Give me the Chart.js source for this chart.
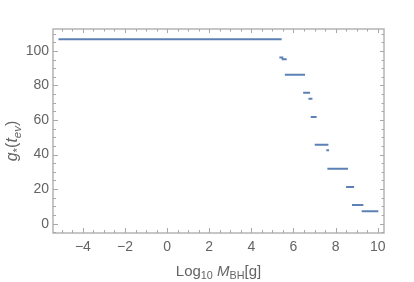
<!DOCTYPE html>
<html>
<head>
<meta charset="utf-8">
<script src="https://cdn.jsdelivr.net/npm/chart.js@4.4.0/dist/chart.umd.min.js"></script>
<style>
  html, body { margin: 0; padding: 0; background: #fff; }
  #wrap { width: 414px; height: 282px; position: relative; }
</style>
</head>
<body>
<div id="wrap"><canvas id="c" width="414" height="282"></canvas></div>
<script>
// ---- data ----
const segStart = [-5.16, 5.33, 5.44, 5.59, 6.46, 6.71, 6.82, 7.01, 7.56, 7.61, 8.50, 8.78, 9.24];
const segEnd   = [ 5.44, 5.52, 5.68, 6.55, 6.79, 6.90, 7.10, 7.66, 7.69, 8.59, 8.88, 9.32, 10.03];
const gStar    = [106.75, 96.25, 95.25, 86.25, 75.75, 72.25, 61.75, 45.75, 42.5, 31.75, 21.25, 10.75, 7.25];
const xTicks = [-4, -2, 0, 2, 4, 6, 8, 10];
const yTicks = [0, 20, 40, 60, 80, 100];
const xRange = [-5.42, 10.3];
const yRange = [-5.4, 112.7];

// build line points with gaps between segments
const pts = [];
segStart.forEach((s, i) => {
  pts.push({ x: s, y: gStar[i] });
  pts.push({ x: segEnd[i], y: gStar[i] });
  pts.push({ x: (segEnd[i] + (segStart[i + 1] ?? segEnd[i])) / 2, y: null });
});

const textColor = '#646464';
const frameColor = '#b4b4b4';
const FONT = 'Liberation Sans, Arial, sans-serif';

function drawRich(ctx, parts, size) {
  const sub = size * 0.72;
  let widths = parts.map(([t, s]) => {
    ctx.font = fontFor(s, size, sub);
    return ctx.measureText(t).width;
  });
  const total = widths.reduce((a, b) => a + b, 0);
  let x = -total / 2;
  parts.forEach(([t, s], i) => {
    ctx.font = fontFor(s, size, sub);
    const dy = (s === 'sub' || s === 'isub') ? size * 0.22 : 0;
    ctx.fillText(t, x, dy);
    x += widths[i];
  });
}
function fontFor(s, size, sub) {
  if (s === 'i') return 'italic ' + size + 'px ' + FONT;
  if (s === 'sub') return sub + 'px ' + FONT;
  if (s === 'isub') return 'italic ' + sub + 'px ' + FONT;
  return size + 'px ' + FONT;
}

const framePlugin = {
  id: 'frame',
  afterDraw(chart) {
    const { ctx, chartArea: a, scales: { x, y } } = chart;
    ctx.save();
    ctx.strokeStyle = frameColor;
    ctx.lineWidth = 1.5;
    ctx.strokeRect(a.left, a.top, a.right - a.left, a.bottom - a.top);
    ctx.lineWidth = 1;
    ctx.strokeStyle = '#a8a8a8';
    ctx.beginPath();
    for (let v = -5; v <= 10.001; v += 0.5) {
      const px = Math.round(x.getPixelForValue(v)) + 0.5;
      const major = Math.abs(v / 2 - Math.round(v / 2)) < 1e-6;
      const lenB = major ? 5 : 3;
      const lenT = major ? 4 : 2.5;
      ctx.moveTo(px, a.bottom); ctx.lineTo(px, a.bottom - lenB);
      ctx.moveTo(px, a.top); ctx.lineTo(px, a.top + lenT);
    }
    for (let v = -5; v <= 110.001; v += 5) {
      const py = Math.round(y.getPixelForValue(v)) + 0.5;
      const major = Math.abs(v / 20 - Math.round(v / 20)) < 1e-6;
      const lenL = major ? 5 : 3;
      const lenR = major ? 4 : 2.5;
      ctx.moveTo(a.left, py); ctx.lineTo(a.left + lenL, py);
      ctx.moveTo(a.right, py); ctx.lineTo(a.right - lenR, py);
    }
    ctx.stroke();

    ctx.fillStyle = textColor;
    ctx.textBaseline = 'alphabetic';
    ctx.textAlign = 'left';
    ctx.save();
    ctx.translate((a.left + a.right) / 2, 276);
    drawRich(ctx, [['Log', 'n'], ['10', 'sub'], [' ', 'n'], ['M', 'i'], ['BH', 'sub'], ['[g]', 'n']], 15);
    ctx.restore();
    ctx.save();
    ctx.translate(17, 141);
    ctx.rotate(-Math.PI / 2);
    drawRich(ctx, [['g', 'i'], ['*', 'sub'], ['(', 'n'], ['t', 'i'], ['ev', 'isub'], [')', 'n']], 16);
    ctx.restore();
    ctx.restore();
  }
};

new Chart(document.getElementById('c'), {
  type: 'line',
  data: {
    datasets: [{
      data: pts,
      borderColor: '#5e81b5',
      borderWidth: 2,
      pointRadius: 0,
      spanGaps: false,
      tension: 0,
      fill: false
    }]
  },
  options: {
    responsive: false,
    animation: false,
    events: [],
    layout: { padding: { left: 0, right: 30, top: 29, bottom: 0 } },
    plugins: { legend: { display: false }, tooltip: { enabled: false } },
    scales: {
      x: {
        type: 'linear',
        min: xRange[0], max: xRange[1],
        afterBuildTicks: s => { s.ticks = xTicks.map(v => ({ value: v })); },
        afterFit: s => { s.height = 49; },
        grid: { display: false, drawTicks: false },
        border: { display: false },
        ticks: {
          color: textColor, padding: 6,
          font: { family: FONT, size: 14 },
          callback: v => (v < 0 ? '\u2212' + Math.abs(v) : String(v))
        }
      },
      y: {
        type: 'linear',
        min: yRange[0], max: yRange[1],
        afterBuildTicks: s => { s.ticks = yTicks.map(v => ({ value: v })); },
        afterFit: s => { s.width = 53; },
        grid: { display: false, drawTicks: false },
        border: { display: false },
        ticks: {
          color: textColor, padding: 4,
          font: { family: FONT, size: 14 }
        }
      }
    }
  },
  plugins: [framePlugin]
});
</script>
</body>
</html>
